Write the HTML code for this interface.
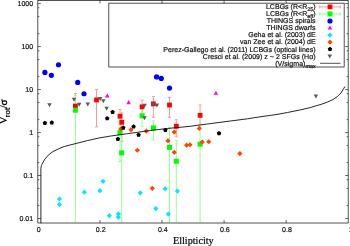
<!DOCTYPE html><html><head><meta charset="utf-8"><title>plot</title><style>html,body{margin:0;padding:0;background:#fff;overflow:hidden}</style></head><body><svg width="350" height="246" viewBox="0 0 350 246" style="display:block">
<rect width="350" height="246" fill="#fff"/>
<g transform="translate(0,0.25)">
<line x1="75.4" y1="93.2" x2="75.4" y2="112" stroke="#ff9898" stroke-width="1"/>
<line x1="73.9" y1="93.2" x2="76.9" y2="93.2" stroke="#ff9898" stroke-width="1"/>
<line x1="73.9" y1="112" x2="76.9" y2="112" stroke="#ff9898" stroke-width="1"/>
<line x1="96.5" y1="89.2" x2="96.5" y2="126.7" stroke="#ff9898" stroke-width="1"/>
<line x1="95.0" y1="89.2" x2="98.0" y2="89.2" stroke="#ff9898" stroke-width="1"/>
<line x1="95.0" y1="126.7" x2="98.0" y2="126.7" stroke="#ff9898" stroke-width="1"/>
<line x1="120" y1="109.3" x2="120" y2="124" stroke="#ff9898" stroke-width="1"/>
<line x1="118.5" y1="109.3" x2="121.5" y2="109.3" stroke="#ff9898" stroke-width="1"/>
<line x1="118.5" y1="124" x2="121.5" y2="124" stroke="#ff9898" stroke-width="1"/>
<line x1="121.8" y1="112.6" x2="121.8" y2="141.3" stroke="#ff9898" stroke-width="1"/>
<line x1="120.3" y1="112.6" x2="123.3" y2="112.6" stroke="#ff9898" stroke-width="1"/>
<line x1="120.3" y1="141.3" x2="123.3" y2="141.3" stroke="#ff9898" stroke-width="1"/>
<line x1="142.1" y1="100" x2="142.1" y2="114" stroke="#ff9898" stroke-width="1"/>
<line x1="140.6" y1="100" x2="143.6" y2="100" stroke="#ff9898" stroke-width="1"/>
<line x1="140.6" y1="114" x2="143.6" y2="114" stroke="#ff9898" stroke-width="1"/>
<line x1="153.4" y1="96.3" x2="153.4" y2="117" stroke="#ff9898" stroke-width="1"/>
<line x1="151.9" y1="96.3" x2="154.9" y2="96.3" stroke="#ff9898" stroke-width="1"/>
<line x1="151.9" y1="117" x2="154.9" y2="117" stroke="#ff9898" stroke-width="1"/>
<line x1="169.5" y1="97.3" x2="169.5" y2="117" stroke="#ff9898" stroke-width="1"/>
<line x1="168.0" y1="97.3" x2="171.0" y2="97.3" stroke="#ff9898" stroke-width="1"/>
<line x1="168.0" y1="117" x2="171.0" y2="117" stroke="#ff9898" stroke-width="1"/>
<line x1="176.3" y1="119.5" x2="176.3" y2="136.6" stroke="#ff9898" stroke-width="1"/>
<line x1="174.8" y1="119.5" x2="177.8" y2="119.5" stroke="#ff9898" stroke-width="1"/>
<line x1="174.8" y1="136.6" x2="177.8" y2="136.6" stroke="#ff9898" stroke-width="1"/>
<line x1="200.1" y1="104.8" x2="200.1" y2="124" stroke="#ff9898" stroke-width="1"/>
<line x1="198.6" y1="104.8" x2="201.6" y2="104.8" stroke="#ff9898" stroke-width="1"/>
<line x1="198.6" y1="124" x2="201.6" y2="124" stroke="#ff9898" stroke-width="1"/>
<line x1="75.4" y1="95.4" x2="75.4" y2="222.3" stroke="#94ff94" stroke-width="1"/>
<line x1="73.9" y1="95.4" x2="76.9" y2="95.4" stroke="#94ff94" stroke-width="1"/>
<line x1="120" y1="122.8" x2="120" y2="161.2" stroke="#94ff94" stroke-width="1"/>
<line x1="118.5" y1="122.8" x2="121.5" y2="122.8" stroke="#94ff94" stroke-width="1"/>
<line x1="118.5" y1="161.2" x2="121.5" y2="161.2" stroke="#94ff94" stroke-width="1"/>
<line x1="121.7" y1="137" x2="121.7" y2="222.3" stroke="#94ff94" stroke-width="1"/>
<line x1="120.2" y1="137" x2="123.2" y2="137" stroke="#94ff94" stroke-width="1"/>
<line x1="142.1" y1="109.6" x2="142.1" y2="126.5" stroke="#94ff94" stroke-width="1"/>
<line x1="140.6" y1="109.6" x2="143.6" y2="109.6" stroke="#94ff94" stroke-width="1"/>
<line x1="140.6" y1="126.5" x2="143.6" y2="126.5" stroke="#94ff94" stroke-width="1"/>
<line x1="153.4" y1="120.7" x2="153.4" y2="139.7" stroke="#94ff94" stroke-width="1"/>
<line x1="151.9" y1="120.7" x2="154.9" y2="120.7" stroke="#94ff94" stroke-width="1"/>
<line x1="151.9" y1="139.7" x2="154.9" y2="139.7" stroke="#94ff94" stroke-width="1"/>
<line x1="169.5" y1="127.2" x2="169.5" y2="222.3" stroke="#94ff94" stroke-width="1"/>
<line x1="168.0" y1="127.2" x2="171.0" y2="127.2" stroke="#94ff94" stroke-width="1"/>
<line x1="176.3" y1="140.2" x2="176.3" y2="222.3" stroke="#94ff94" stroke-width="1"/>
<line x1="174.8" y1="140.2" x2="177.8" y2="140.2" stroke="#94ff94" stroke-width="1"/>
<line x1="200.1" y1="124" x2="200.1" y2="222.3" stroke="#94ff94" stroke-width="1"/>
<line x1="198.6" y1="124" x2="201.6" y2="124" stroke="#94ff94" stroke-width="1"/>
<rect x="73.00" y="103.40" width="4.8" height="4.8" fill="#ff0000"/>
<rect x="94.10" y="97.30" width="4.8" height="4.8" fill="#ff0000"/>
<rect x="117.60" y="113.60" width="4.8" height="4.8" fill="#ff0000"/>
<rect x="119.40" y="119.70" width="4.8" height="4.8" fill="#ff0000"/>
<rect x="139.70" y="104.20" width="4.8" height="4.8" fill="#ff0000"/>
<rect x="151.00" y="101.20" width="4.8" height="4.8" fill="#ff0000"/>
<rect x="167.10" y="102.40" width="4.8" height="4.8" fill="#ff0000"/>
<rect x="173.90" y="123.60" width="4.8" height="4.8" fill="#ff0000"/>
<rect x="197.70" y="112.70" width="4.8" height="4.8" fill="#ff0000"/>
<rect x="72.90" y="107.40" width="5.0" height="5.0" fill="#00ff00"/>
<rect x="117.50" y="129.90" width="5.0" height="5.0" fill="#00ff00"/>
<rect x="119.20" y="150.10" width="5.0" height="5.0" fill="#00ff00"/>
<rect x="139.60" y="113.10" width="5.0" height="5.0" fill="#00ff00"/>
<rect x="150.90" y="125.10" width="5.0" height="5.0" fill="#00ff00"/>
<rect x="167.00" y="144.60" width="5.0" height="5.0" fill="#00ff00"/>
<rect x="173.80" y="158.50" width="5.0" height="5.0" fill="#00ff00"/>
<rect x="197.60" y="141.40" width="5.0" height="5.0" fill="#00ff00"/>
<circle cx="44.9" cy="72.2" r="2.6" fill="#0000ff"/>
<circle cx="51.4" cy="75.1" r="2.6" fill="#0000ff"/>
<circle cx="58.5" cy="64.5" r="2.6" fill="#0000ff"/>
<circle cx="77.7" cy="82.2" r="2.6" fill="#0000ff"/>
<circle cx="84" cy="93.5" r="2.6" fill="#0000ff"/>
<circle cx="156.6" cy="76.7" r="2.6" fill="#0000ff"/>
<circle cx="161.3" cy="78.2" r="2.6" fill="#0000ff"/>
<circle cx="169.5" cy="87.8" r="2.6" fill="#0000ff"/>
<polygon points="105.00,97.20 109.60,97.20 107.3,93.10" fill="#ff00ff"/>
<polygon points="126.30,103.90 130.90,103.90 128.6,99.80" fill="#ff00ff"/>
<polygon points="213.60,94.60 218.20,94.60 215.9,90.50" fill="#ff00ff"/>
<polygon points="56.90,198.7 59.5,196.10 62.10,198.7 59.5,201.30" fill="#00e8ff"/>
<polygon points="56.90,204.2 59.5,201.60 62.10,204.2 59.5,206.80" fill="#00e8ff"/>
<polygon points="81.80,191.9 84.4,189.30 87.00,191.9 84.4,194.50" fill="#00e8ff"/>
<polygon points="97.30,190.4 99.9,187.80 102.50,190.4 99.9,193.00" fill="#00e8ff"/>
<polygon points="100.40,181.1 103,178.50 105.60,181.1 103,183.70" fill="#00e8ff"/>
<polygon points="106.70,215.4 109.3,212.80 111.90,215.4 109.3,218.00" fill="#00e8ff"/>
<polygon points="115.80,213.7 118.4,211.10 121.00,213.7 118.4,216.30" fill="#00e8ff"/>
<polygon points="115.80,216.9 118.4,214.30 121.00,216.9 118.4,219.50" fill="#00e8ff"/>
<polygon points="137.70,192.6 140.3,190.00 142.90,192.6 140.3,195.20" fill="#00e8ff"/>
<polygon points="153.20,208.3 155.8,205.70 158.40,208.3 155.8,210.90" fill="#00e8ff"/>
<polygon points="162.60,188.6 165.2,186.00 167.80,188.6 165.2,191.20" fill="#00e8ff"/>
<polygon points="165.70,213.8 168.3,211.20 170.90,213.8 168.3,216.40" fill="#00e8ff"/>
<polygon points="174.80,190.8 177.4,188.20 180.00,190.8 177.4,193.40" fill="#00e8ff"/>
<polygon points="118.20,128.7 120.8,126.10 123.40,128.7 120.8,131.30" fill="#ff4500"/>
<polygon points="128.40,129.6 131,127.00 133.60,129.6 131,132.20" fill="#ff4500"/>
<polygon points="134.70,150 137.3,147.40 139.90,150 137.3,152.60" fill="#ff4500"/>
<polygon points="143.70,130.8 146.3,128.20 148.90,130.8 146.3,133.40" fill="#ff4500"/>
<polygon points="149.70,188.1 152.3,185.50 154.90,188.1 152.3,190.70" fill="#ff4500"/>
<polygon points="165.40,140.6 168,138.00 170.60,140.6 168,143.20" fill="#ff4500"/>
<polygon points="171.70,131.8 174.3,129.20 176.90,131.8 174.3,134.40" fill="#ff4500"/>
<polygon points="171.70,152.1 174.3,149.50 176.90,152.1 174.3,154.70" fill="#ff4500"/>
<polygon points="184.00,144.9 186.6,142.30 189.20,144.9 186.6,147.50" fill="#ff4500"/>
<polygon points="187.40,144.5 190,141.90 192.60,144.5 190,147.10" fill="#ff4500"/>
<polygon points="196.70,128.2 199.3,125.60 201.90,128.2 199.3,130.80" fill="#ff4500"/>
<polygon points="199.60,141.8 202.2,139.20 204.80,141.8 202.2,144.40" fill="#ff4500"/>
<polygon points="206.10,141.5 208.7,138.90 211.30,141.5 208.7,144.10" fill="#ff4500"/>
<polygon points="237.30,153.3 239.9,150.70 242.50,153.3 239.9,155.90" fill="#ff4500"/>
<polygon points="44.90,120.45 47.13,122.07 46.28,124.70 43.52,124.70 42.67,122.07" fill="#000"/>
<polygon points="51.80,120.05 54.03,121.67 53.18,124.30 50.42,124.30 49.57,121.67" fill="#000"/>
<polygon points="112.60,109.45 114.83,111.07 113.98,113.70 111.22,113.70 110.37,111.07" fill="#000"/>
<polygon points="107.20,115.85 109.43,117.47 108.58,120.10 105.82,120.10 104.97,117.47" fill="#000"/>
<polygon points="123.30,125.15 125.53,126.77 124.68,129.40 121.92,129.40 121.07,126.77" fill="#000"/>
<polygon points="133.60,124.05 135.83,125.67 134.98,128.30 132.22,128.30 131.37,125.67" fill="#000"/>
<polygon points="138.60,132.35 140.83,133.97 139.98,136.60 137.22,136.60 136.37,133.97" fill="#000"/>
<polygon points="117.90,136.45 120.13,138.07 119.28,140.70 116.52,140.70 115.67,138.07" fill="#000"/>
<polygon points="165.40,127.45 167.63,129.07 166.78,131.70 164.02,131.70 163.17,129.07" fill="#000"/>
<polygon points="219.00,130.65 221.23,132.27 220.38,134.90 217.62,134.90 216.77,132.27" fill="#000"/>
<polygon points="47.25,102.90 51.75,102.90 49.5,106.90" fill="#5a5a5a"/>
<polygon points="71.75,97.60 76.25,97.60 74.0,101.60" fill="#5a5a5a"/>
<polygon points="76.95,102.40 81.45,102.40 79.2,106.40" fill="#5a5a5a"/>
<polygon points="85.55,102.20 90.05,102.20 87.8,106.20" fill="#5a5a5a"/>
<polygon points="97.95,96.70 102.45,96.70 100.2,100.70" fill="#5a5a5a"/>
<polygon points="101.05,98.90 105.55,98.90 103.3,102.90" fill="#5a5a5a"/>
<polygon points="104.35,106.40 108.85,106.40 106.6,110.40" fill="#5a5a5a"/>
<polygon points="142.35,103.40 146.85,103.40 144.60000000000002,107.40" fill="#5a5a5a"/>
<polygon points="142.25,116.00 146.75,116.00 144.5,120.00" fill="#5a5a5a"/>
<polygon points="150.45,102.40 154.95,102.40 152.70000000000002,106.40" fill="#5a5a5a"/>
<polygon points="154.65,103.20 159.15,103.20 156.9,107.20" fill="#5a5a5a"/>
<polygon points="313.65,94.20 318.15,94.20 315.90000000000003,98.20" fill="#5a5a5a"/>
</g>
<polyline fill="none" stroke="#000" stroke-width="0.85" stroke-linejoin="round" points="40.9,223.20 40.9,168.20 41.4,165.70 42.6,163.10 44.9,159.10 48.3,155.10 52.9,151.60 58.6,148.80 64.3,146.50 70,145.00 76,143.50 87.4,140.60 98.9,138.00 110.3,136.10 116,135.30 127.4,133.70 138.9,132.10 150.3,130.50 156,129.80 167.4,128.50 178.9,127.40 190.3,126.30 196,125.50 207.4,124.00 218.9,122.50 230.3,121.00 236,120.30 247.4,118.80 258.9,117.00 270.3,115.40 276,114.60 287.4,112.50 298.9,110.20 310.3,107.60 315.7,105.90 321.4,104.30 327.1,102.20 332.9,99.60 337.4,96.50 340.9,93.10 343.1,89.60 344.9,86.50"/>
<rect x="108.83" y="3.15" width="235.32" height="63.85" fill="#fff" stroke="#000" stroke-width="0.68"/>
<rect x="37.84" y="0.45" width="310.33000000000004" height="222.55" fill="none" stroke="#000" stroke-width="0.68"/>
<path d="M37.84,218.51h3.0M348.17,218.51h-3.0M37.84,205.57h1.5M348.17,205.57h-1.5M37.84,188.47h1.5M348.17,188.47h-1.5M37.84,179.70h1.5M348.17,179.70h-1.5M37.84,175.53h3.0M348.17,175.53h-3.0M37.84,162.59h1.5M348.17,162.59h-1.5M37.84,145.49h1.5M348.17,145.49h-1.5M37.84,136.72h1.5M348.17,136.72h-1.5M37.84,132.55h3.0M348.17,132.55h-3.0M37.84,119.61h1.5M348.17,119.61h-1.5M37.84,102.51h1.5M348.17,102.51h-1.5M37.84,93.74h1.5M348.17,93.74h-1.5M37.84,89.57h3.0M348.17,89.57h-3.0M37.84,76.63h1.5M348.17,76.63h-1.5M37.84,59.53h1.5M348.17,59.53h-1.5M37.84,50.76h1.5M348.17,50.76h-1.5M37.84,46.59h3.0M348.17,46.59h-3.0M37.84,33.65h1.5M348.17,33.65h-1.5M37.84,16.55h1.5M348.17,16.55h-1.5M37.84,7.78h1.5M348.17,7.78h-1.5M37.84,3.61h3.0M348.17,3.61h-3.0M99.94,223.0v-3M99.94,0.45v3M162.01,223.0v-3M162.01,0.45v3M224.08,223.0v-3M224.08,0.45v3M286.15,223.0v-3M286.15,0.45v3" stroke="#000" stroke-width="0.6" fill="none"/>
<g font-family="Liberation Sans, sans-serif" font-size="7.05" fill="#111" stroke="#111" stroke-width="0.2" text-rendering="geometricPrecision">
<text x="33.2" y="6.21" text-anchor="end">1000</text>
<text x="33.2" y="49.19" text-anchor="end">100</text>
<text x="33.2" y="92.17" text-anchor="end">10</text>
<text x="33.2" y="135.15" text-anchor="end">1</text>
<text x="33.2" y="178.13" text-anchor="end">0.1</text>
<text x="33.2" y="221.11" text-anchor="end">0.01</text>
<text x="38.67" y="232.4" text-anchor="middle">0</text>
<text x="100.74" y="232.4" text-anchor="middle">0.2</text>
<text x="162.81" y="232.4" text-anchor="middle">0.4</text>
<text x="224.88" y="232.4" text-anchor="middle">0.6</text>
<text x="286.95" y="232.4" text-anchor="middle">0.8</text>
<text x="350.82" y="232.4" text-anchor="middle">1</text>
<text x="315.6" y="9.20" text-anchor="end">LCBGs (R&lt;R<tspan font-size="5.4" dy="1.9">25</tspan><tspan dy="-1.9">)</tspan></text>
<text x="315.6" y="16.25" text-anchor="end">LCBGs (R&lt;R<tspan font-size="5.4" dy="1.9">eff</tspan><tspan dy="-1.9">)</tspan></text>
<text x="315.6" y="23.30" text-anchor="end">THINGS spirals</text>
<text x="315.6" y="30.35" text-anchor="end">THINGS dwarfs</text>
<text x="315.6" y="37.40" text-anchor="end">Geha et al. (2003) dE</text>
<text x="315.6" y="44.45" text-anchor="end">van Zee et al. (2004) dE</text>
<text x="315.6" y="51.50" text-anchor="end">Perez-Gallego et al. (2011) LCBGs (optical lines)</text>
<text x="315.6" y="58.55" text-anchor="end">Cresci et al. (2009) z ~ 2 SFGs (Hα)</text>
<text x="315.6" y="65.60" text-anchor="end">(V/sigma)<tspan font-size="5.4" dy="1.9">max</tspan></text>
</g>
<path d="M319.7,6.9H340.4M319.7,5.4v3M340.4,5.4v3" stroke="#ff9898" stroke-width="1" fill="none"/>
<path d="M319.7,13.95H340.4M319.7,12.45v3M340.4,12.45v3" stroke="#94ff94" stroke-width="1" fill="none"/>
<rect x="327.60" y="4.50" width="4.8" height="4.8" fill="#ff0000"/>
<rect x="327.50" y="11.45" width="5.0" height="5.0" fill="#00ff00"/>
<circle cx="330" cy="21.0" r="2.6" fill="#0000ff"/>
<polygon points="327.70,29.55 332.30,29.55 330,25.45" fill="#ff00ff"/>
<polygon points="327.40,35.1 330,32.50 332.60,35.1 330,37.70" fill="#00e8ff"/>
<polygon points="327.40,42.15 330,39.55 332.60,42.15 330,44.75" fill="#ff4500"/>
<polygon points="330.00,46.85 332.23,48.47 331.38,51.10 328.62,51.10 327.77,48.47" fill="#000"/>
<polygon points="327.55,54.55 332.05,54.55 329.8,58.55" fill="#5a5a5a"/>
<line x1="320" y1="63.3" x2="340.4" y2="63.3" stroke="#000" stroke-width="0.68"/>
<text x="193.3" y="244.1" text-anchor="middle" font-family="Liberation Serif, serif" font-size="10.2" fill="#000" stroke="#000" stroke-width="0.2">Ellipticity</text>
<g transform="rotate(-90)" fill="#000" stroke="#000" stroke-width="0.22"><text x="-124.8" y="6.95" font-family="Liberation Serif, serif" font-size="12">V</text><text x="-117.2" y="9.8" font-family="Liberation Sans, sans-serif" font-size="8">rot</text><text x="-108.3" y="6.95" font-family="Liberation Serif, serif" font-size="12">/</text><text x="-105.6" y="6.95" font-family="Liberation Serif, serif" font-size="11" stroke-width="0.45">σ</text></g>
</svg></body></html>
